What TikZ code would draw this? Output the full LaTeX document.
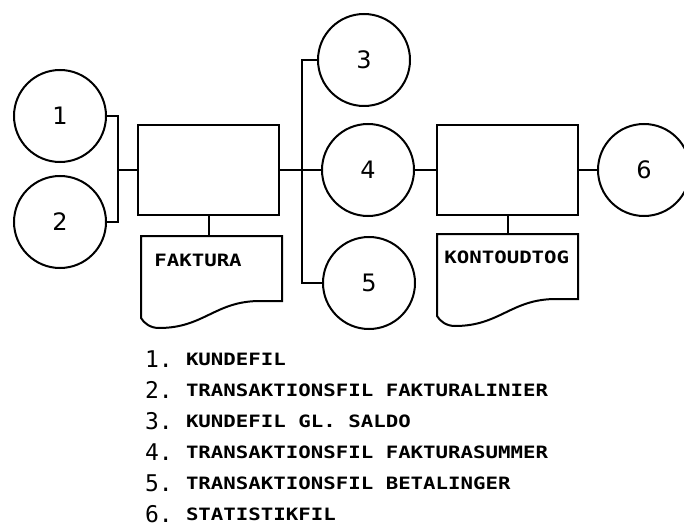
\documentclass[tikz,border=0pt]{standalone}
\usepackage{fontspec}
\usepackage{tikz}
\usetikzlibrary{calc}
\newfontfamily\plotfont[FakeStretch=1.22]{DejaVu Sans Mono Bold}
\newfontfamily\numfont{DejaVu Sans Mono}
\newfontfamily\digitfont{DejaVu Sans}

\begin{document}
\begin{tikzpicture}[x=1pt,y=1pt,
  line width=2pt,
  file/.style={draw,circle,minimum size=92pt,inner sep=0pt,font=\fontsize{24}{24}\selectfont\digitfont},
  runbox/.style={draw,rectangle,minimum width=141pt,minimum height=90pt,inner sep=0pt},
  report/.style={rectangle,minimum width=139pt,minimum height=63pt,inner sep=0pt},
  reporttext/.style={font=\fontsize{17}{17}\selectfont\plotfont},
  legendnum/.style={anchor=west,inner sep=0pt,font=\fontsize{23}{23}\selectfont\numfont},
  legendtext/.style={anchor=west,inner sep=0pt,font=\fontsize{17}{17}\selectfont\plotfont}]
  \useasboundingbox (0,0) rectangle (684,528);
  \clip (0,0) rectangle (684,528);
  % input files
  \node[file] (c1) at (60,412) {1};
  \node[file] (c2) at (60,306) {2};
  % first run
  \node[runbox] (box1) at (208.5,358) {};
  \node[report,label={[reporttext,anchor=north west,xshift=9pt,yshift=-14pt]north west:FAKTURA}] (fak) at (211.5,259.5) {};
  % output files of first run
  \node[file] (c3) at (364,468) {3};
  \node[file] (c4) at (368,358) {4};
  \node[file] (c5) at (369,245) {5};
  % second run
  \node[runbox] (box2) at (507.5,358) {};
  \node[report,label={[reporttext,anchor=north west,xshift=3pt,yshift=-13pt]north west:KONTOUDTOG}] (kon) at (507.5,261.5) {};
  \node[file] (c6) at (644,358) {6};
  % report outlines
  \foreach \d in {fak,kon}
    \draw (\d.north west) -- (\d.north east) -- (\d.south east) -- ++(-22,0)
      .. controls +(-45,0) and +(45,0) .. ([xshift=18pt,yshift=-27pt]\d.south west)
      .. controls +(-9,0) and +(3,-5) .. ([yshift=-17pt]\d.south west) -- cycle;
  % connectors
  \draw (c1.east) -- ++(11,0) coordinate (b1) |- (c2.east);
  \draw (b1 |- box1.west) -- (box1.west);
  \draw (box1.south) -- (box1.south |- fak.north);
  \draw (c3.west) -- ++(-15,0) coordinate (b2) |- (c5.west);
  \draw (box1.east) -- (c4.west);
  \draw (c4.east) -- (box2.west);
  \draw (box2.south) -- (box2.south |- kon.north);
  \draw (box2.east) -- (c6.west);
  % legend
  \foreach \t [count=\i] in {KUNDEFIL,TRANSAKTIONSFIL FAKTURALINIER,KUNDEFIL GL. SALDO,TRANSAKTIONSFIL FAKTURASUMMER,TRANSAKTIONSFIL BETALINGER,STATISTIKFIL}{
    \node[legendnum] (num\i) at (144,{200-31*\i}) {\i.};
    \node[legendtext] (item\i) at (185,{200-31*\i}) {\t};
  }
\end{tikzpicture}
\end{document}
